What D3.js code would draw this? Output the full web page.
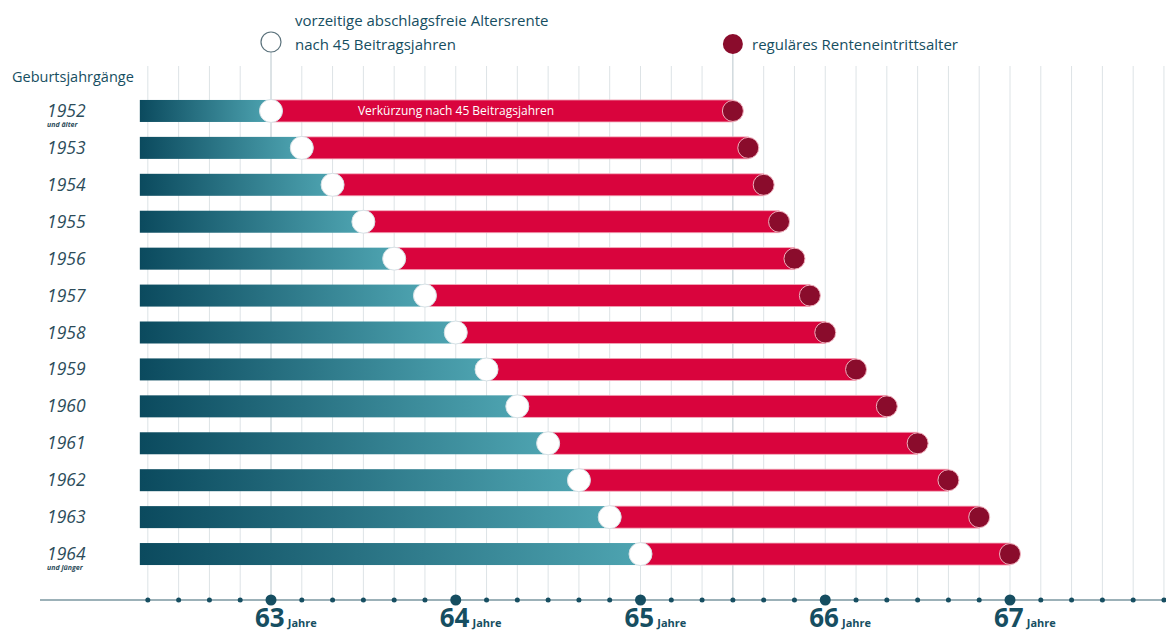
<!DOCTYPE html>
<html><head><meta charset="utf-8">
<script src="https://cdn.jsdelivr.net/npm/d3@7"></script>
<style>
html,body{margin:0;padding:0;background:#fff;}
svg{display:block;font-family:"Open Sans","Noto Sans",sans-serif;}
</style></head>
<body>
<svg id="chart" width="1166" height="634"></svg>
<script>
const cohorts = ["1952","1953","1954","1955","1956","1957","1958","1959","1960","1961","1962","1963","1964"];
const subLabels = ["und älter","","","","","","","","","","","","und jünger"];
// ages in years (months converted)
const earlyAge = [63.0,63.1667,63.3333,63.5,63.6667,63.8333,64.0,64.1667,64.3333,64.5,64.6667,64.8333,65.0];
const regularAge = [65.5,65.5833,65.6667,65.75,65.8333,65.9167,66.0,66.1667,66.3333,66.5,66.6667,66.8333,67.0];
const barStart = 62.29;
const tickValues = [62.3333,62.5,62.6667,62.8333,63.0,63.1667,63.3333,63.5,63.6667,63.8333,64.0,64.1667,64.3333,64.5,64.6667,64.8333,65.0,65.1667,65.3333,65.5,65.6667,65.8333,66.0,66.1667,66.3333,66.5,66.6667,66.8333,67.0,67.1667,67.3333,67.5,67.6667,67.8333];
const majorTicks = [63,64,65,66,67];
const majorLabels = ["63","64","65","66","67"];
const legendEarly = ["vorzeitige abschlagsfreie Altersrente","nach 45 Beitragsjahren"];
const legendRegular = "reguläres Renteneintrittsalter";
const headerLabel = "Geburtsjahrgänge";
const barNote = "Verkürzung nach 45 Beitragsjahren";

const teal = "#164e61";
const svg = d3.select("#chart");
const x = d3.scaleLinear().domain([63,67]).range([271,1010]);
const y = d3.scaleBand().domain(cohorts).range([92.5,572.5]);
const barH = 22;
const axisY = 600;

// gradient
const defs = svg.append("defs");
const grad = defs.append("linearGradient").attr("id","tealGrad").attr("x1","0").attr("x2","1").attr("y1","0").attr("y2","0");
grad.append("stop").attr("offset","0").attr("stop-color","#0b4a5e");
grad.append("stop").attr("offset","1").attr("stop-color","#4ea4b1");

// gridlines
svg.append("g").selectAll("line").data(tickValues).join("line")
  .attr("x1",d=>x(d)).attr("x2",d=>x(d))
  .attr("y1",d=>Math.abs(d-63)<0.01?50:(Math.abs(d-65.5)<0.01?52:66))
  .attr("y2",axisY)
  .attr("stroke",d=>(Math.abs(d-63)<0.01||Math.abs(d-65.5)<0.01)?"#b9c6cc":"#dde3e6")
  .attr("stroke-width",1);

// axis line
svg.append("line").attr("x1",40).attr("x2",1166).attr("y1",axisY).attr("y2",axisY)
  .attr("stroke","#3b6472").attr("stroke-width",1.2);
svg.append("g").selectAll("circle").data(tickValues).join("circle")
  .attr("cx",d=>x(d)).attr("cy",axisY)
  .attr("r",d=>majorTicks.some(m=>Math.abs(m-d)<0.01)?5.5:2.5)
  .attr("fill",teal);

// axis labels
const lab = svg.append("g").selectAll("text").data(majorTicks).join("text")
  .attr("x",d=>x(d)-16).attr("y",627).attr("fill",teal).attr("font-weight",700);
lab.append("tspan").attr("font-size",26).text((d,i)=>majorLabels[i]);
lab.append("tspan").attr("font-size",11).attr("dx",3).text("Jahre");

// rows
const rows = svg.append("g").selectAll("g").data(cohorts).join("g");
rows.append("rect")
  .attr("x",(d,i)=>x(barStart)).attr("y",d=>y(d)+y.bandwidth()/2-barH/2)
  .attr("width",(d,i)=>x(earlyAge[i])-x(barStart)).attr("height",barH)
  .attr("fill","url(#tealGrad)");
rows.append("rect")
  .attr("x",(d,i)=>x(earlyAge[i])).attr("y",d=>y(d)+y.bandwidth()/2-barH/2)
  .attr("width",(d,i)=>x(regularAge[i])-x(earlyAge[i])).attr("height",barH)
  .attr("fill","#d9043d").attr("stroke","#f2a9b9").attr("stroke-width",0.8);
rows.append("circle")
  .attr("cx",(d,i)=>x(regularAge[i])).attr("cy",d=>y(d)+y.bandwidth()/2).attr("r",10.5)
  .attr("fill","#8a0c2c").attr("stroke","#f0b0bd").attr("stroke-width",1);
rows.append("circle")
  .attr("cx",(d,i)=>x(earlyAge[i])).attr("cy",d=>y(d)+y.bandwidth()/2).attr("r",11.5)
  .attr("fill","#ffffff").attr("stroke","#d6e2e6").attr("stroke-width",1);
rows.append("text")
  .attr("x",47).attr("y",d=>y(d)+y.bandwidth()/2+6)
  .attr("font-size",17.5).attr("font-style","italic").attr("fill","#2c4c5a")
  .text(d=>d);
rows.append("text")
  .attr("x",47).attr("y",d=>y(d)+y.bandwidth()/2+16)
  .attr("font-size",7).attr("font-style","italic").attr("font-weight",700).attr("fill","#2c4c5a")
  .text((d,i)=>subLabels[i]);

// note in first bar
svg.append("text").attr("x",456).attr("y",y(cohorts[0])+y.bandwidth()/2+4)
  .attr("text-anchor","middle").attr("font-size",12).attr("fill","#fff").text(barNote);

// header
svg.append("text").attr("x",12).attr("y",82).attr("font-size",14.5).attr("fill",teal).text(headerLabel);

// legend
svg.append("circle").attr("cx",x(63)).attr("cy",42).attr("r",10).attr("fill","#fff").attr("stroke","#5b727c").attr("stroke-width",1.2);
svg.append("text").attr("x",295).attr("y",26).attr("font-size",15).attr("fill",teal).text(legendEarly[0]);
svg.append("text").attr("x",295).attr("y",50).attr("font-size",15).attr("fill",teal).text(legendEarly[1]);
svg.append("circle").attr("cx",x(65.5)).attr("cy",44).attr("r",10).attr("fill","#8a0c2c");
svg.append("text").attr("x",752).attr("y",50).attr("font-size",15).attr("fill",teal).text(legendRegular);
</script>
</body></html>
